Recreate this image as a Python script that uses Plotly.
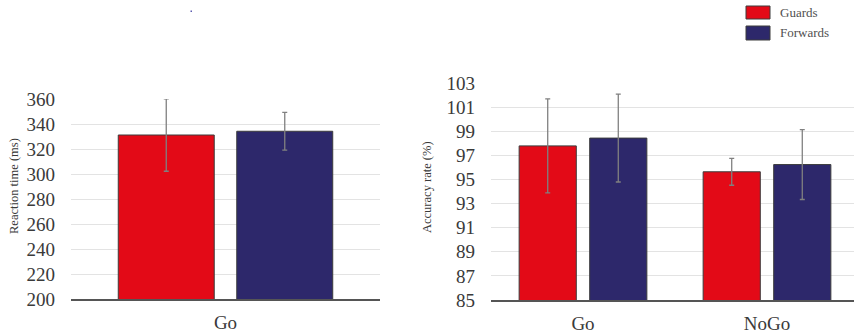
import plotly.graph_objects as go

# Reaction time (Go condition)
rt_categories = ["Go"]
rt_guards = [331.2]
rt_guards_sd = [29.0]
rt_forwards = [334.2]
rt_forwards_sd = [15.1]

# Accuracy rate (Go / NoGo)
acc_categories = ["Go", "NoGo"]
acc_guards = [97.8, 95.65]
acc_guards_sd = [3.9, 1.12]
acc_forwards = [98.45, 96.25]
acc_forwards_sd = [3.65, 2.9]

rt_ticks = [200, 220, 240, 260, 280, 300, 320, 340, 360]
acc_ticks = [85, 87, 89, 91, 93, 95, 97, 99, 101, 103]

groups = ["Guards", "Forwards"]
colors = ["#E30A17", "#2D286B"]

W, H = 854, 336
FONT = "Liberation Serif, Times New Roman, serif"
TXT = "#3a3a3a"


def px(x):
    return x / W


def py(y):
    return 1 - y / H


fig = go.Figure()

err_style = dict(type="data", color="#808080", thickness=1.3, width=2.5)
bar_line = dict(color="#3c3c3c", width=1)

for name, col, vals, sd in [
    (groups[0], colors[0], rt_guards, rt_guards_sd),
    (groups[1], colors[1], rt_forwards, rt_forwards_sd),
]:
    fig.add_trace(go.Bar(
        x=rt_categories, y=vals, name=name, showlegend=False,
        marker=dict(color=col, line=bar_line),
        error_y=dict(array=sd, **err_style),
        xaxis="x", yaxis="y",
    ))

for name, col, vals, sd in [
    (groups[0], colors[0], acc_guards, acc_guards_sd),
    (groups[1], colors[1], acc_forwards, acc_forwards_sd),
]:
    fig.add_trace(go.Bar(
        x=acc_categories, y=vals, name=name, showlegend=False,
        marker=dict(color=col, line=bar_line),
        error_y=dict(array=sd, **err_style),
        xaxis="x2", yaxis="y2",
    ))

tick_font = dict(family=FONT, size=19, color=TXT)
yax_common = dict(
    showgrid=True, gridcolor="#e3e3e3", gridwidth=1,
    showline=False, zeroline=False, ticks="", automargin=False,
    tickfont=tick_font, ticklabelstandoff=15,
)
xax_common = dict(
    showline=True, linecolor="#555555", linewidth=1.5,
    showgrid=False, zeroline=False, ticks="", automargin=False,
    tickfont=tick_font, ticklabelstandoff=5,
)

fig.update_layout(
    template="none",
    width=W, height=H,
    margin=dict(l=0, r=0, t=0, b=0, pad=0),
    paper_bgcolor="white", plot_bgcolor="white",
    font=dict(family=FONT, color=TXT),
    barmode="group", bargap=0.233, bargroupgap=0.19,
    showlegend=False,
    xaxis=dict(domain=[px(71), px(380)], range=[-0.5, 0.5],
               anchor="y", **xax_common),
    yaxis=dict(domain=[py(299), py(99)], range=[200, 360],
               tickvals=rt_ticks, anchor="x", **yax_common),
    xaxis2=dict(domain=[px(491), 1.0], range=[-0.5, -0.5 + 363 / 184],
                anchor="y2", **xax_common),
    yaxis2=dict(domain=[py(300), py(83.3)], range=[85, 103],
                tickvals=acc_ticks, anchor="x2", **yax_common),
)

title_font = dict(family=FONT, size=12.5, color=TXT)
fig.add_annotation(text="Reaction time (ms)", x=px(14), y=py(186),
                   xref="paper", yref="paper", textangle=-90,
                   xanchor="center", yanchor="middle",
                   showarrow=False, font=title_font)
fig.add_annotation(text="Accuracy rate (%)", x=px(427), y=py(187),
                   xref="paper", yref="paper", textangle=-90,
                   xanchor="center", yanchor="middle",
                   showarrow=False, font=title_font)

# Legend: swatches and labels
legend_rows = [(6, 19), (26, 40)]
for (y0, y1), name, col in zip(legend_rows, groups, colors):
    fig.add_shape(type="rect", xref="paper", yref="paper",
                  x0=px(746), x1=px(770), y0=py(y1), y1=py(y0),
                  fillcolor=col, line=dict(color="#3c3c3c", width=1))
    fig.add_annotation(text=name, x=px(778), y=py((y0 + y1) / 2),
                       xref="paper", yref="paper", xanchor="left",
                       yanchor="middle", showarrow=False,
                       font=dict(family=FONT, size=13, color="#505050"))

# small stray mark near the top
fig.add_shape(type="rect", xref="paper", yref="paper",
              x0=px(190.5), x1=px(192), y0=py(12), y1=py(10.5),
              fillcolor="#5a5ab0", line=dict(width=0))

fig.write_html("out.html")
